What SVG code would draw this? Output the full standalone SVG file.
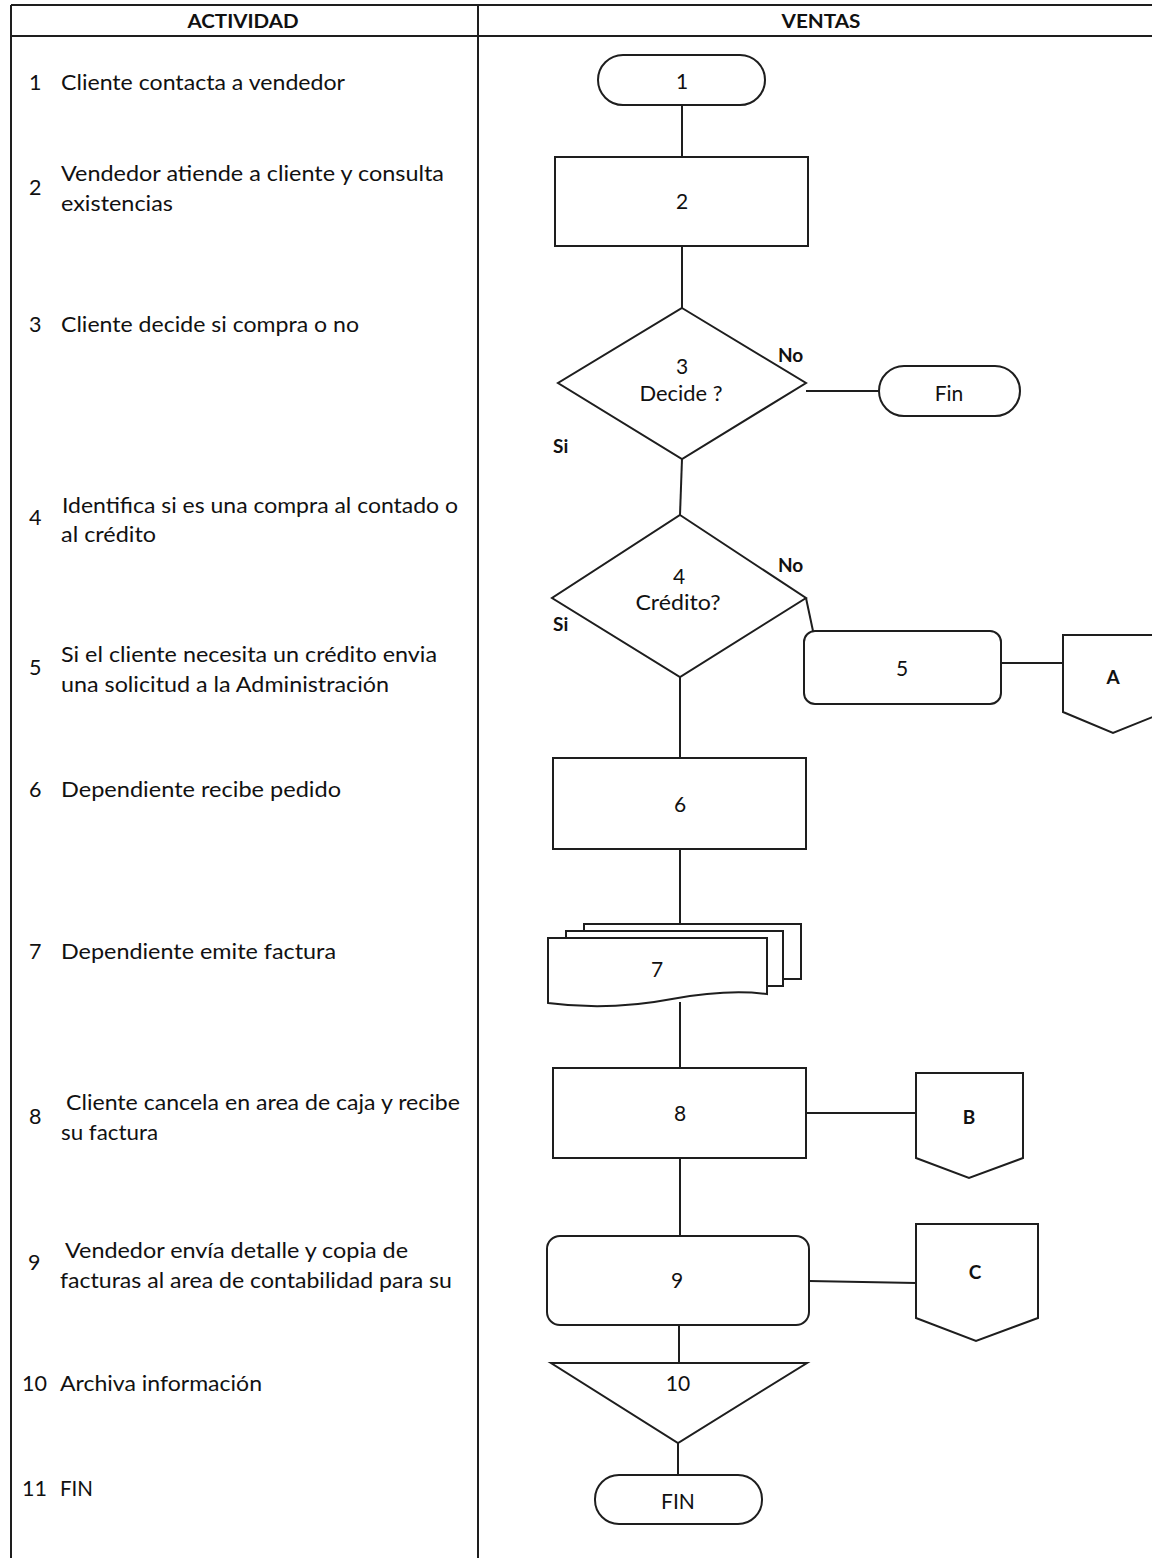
<svg xmlns="http://www.w3.org/2000/svg" width="1152" height="1558" viewBox="0 0 1152 1558">
<style>
.s{fill:#fff;stroke:#1e1e1e;stroke-width:2}
.c{fill:none;stroke:#1e1e1e;stroke-width:2}
.t{font-family:Lato,"Open Sans","Liberation Sans",sans-serif;font-size:21.5px;fill:#111}
.m{font-family:Lato,"Open Sans","Liberation Sans",sans-serif;font-size:21px;fill:#111;text-anchor:middle}
.b{font-family:Lato,"Open Sans","Liberation Sans",sans-serif;font-size:19px;font-weight:bold;fill:#111}
.h{font-family:Lato,"Open Sans","Liberation Sans",sans-serif;font-size:19px;font-weight:bold;fill:#111;text-anchor:middle}
</style>
<rect width="1152" height="1558" fill="#fff"/>
<g id="table">
<line class="c" x1="11" y1="5" x2="1152" y2="5"/>
<line class="c" x1="11" y1="36" x2="1152" y2="36"/>
<line class="c" x1="11" y1="5" x2="11" y2="1558"/>
<line class="c" x1="478" y1="5" x2="478" y2="1558"/>
<text class="h" x="243" y="28" textLength="111" lengthAdjust="spacingAndGlyphs">ACTIVIDAD</text>
<text class="h" x="821" y="28" textLength="79" lengthAdjust="spacingAndGlyphs">VENTAS</text>
</g>
<g id="activities">
<text class="t" x="29" y="90">1</text>
<text class="t" x="61" y="90" textLength="284" lengthAdjust="spacingAndGlyphs">Cliente contacta a vendedor</text>
<text class="t" x="29" y="195">2</text>
<text class="t" x="61" y="181" textLength="383" lengthAdjust="spacingAndGlyphs">Vendedor atiende a cliente y consulta</text>
<text class="t" x="61" y="211" textLength="112" lengthAdjust="spacingAndGlyphs">existencias</text>
<text class="t" x="29" y="332">3</text>
<text class="t" x="61" y="332" textLength="298" lengthAdjust="spacingAndGlyphs">Cliente decide si compra o no</text>
<text class="t" x="29" y="525">4</text>
<text class="t" x="62" y="513" textLength="396" lengthAdjust="spacingAndGlyphs">Identifica si es una compra al contado o</text>
<text class="t" x="61" y="542" textLength="95" lengthAdjust="spacingAndGlyphs">al crédito</text>
<text class="t" x="29" y="675">5</text>
<text class="t" x="61" y="662" textLength="376" lengthAdjust="spacingAndGlyphs">Si el cliente necesita un crédito envia</text>
<text class="t" x="61" y="692" textLength="328" lengthAdjust="spacingAndGlyphs">una solicitud a la Administración</text>
<text class="t" x="29" y="797">6</text>
<text class="t" x="61" y="797" textLength="280" lengthAdjust="spacingAndGlyphs">Dependiente recibe pedido</text>
<text class="t" x="29" y="959">7</text>
<text class="t" x="61" y="959" textLength="275" lengthAdjust="spacingAndGlyphs">Dependiente emite factura</text>
<text class="t" x="29" y="1124">8</text>
<text class="t" x="66" y="1110" textLength="394" lengthAdjust="spacingAndGlyphs">Cliente cancela en area de caja y recibe</text>
<text class="t" x="61" y="1140" textLength="97" lengthAdjust="spacingAndGlyphs">su factura</text>
<text class="t" x="28" y="1270">9</text>
<text class="t" x="65" y="1258" textLength="343" lengthAdjust="spacingAndGlyphs">Vendedor envía detalle y copia de</text>
<text class="t" x="60" y="1288" textLength="392" lengthAdjust="spacingAndGlyphs">facturas al area de contabilidad para su</text>
<text class="t" x="22" y="1391">10</text>
<text class="t" x="60" y="1391" textLength="202" lengthAdjust="spacingAndGlyphs">Archiva información</text>
<text class="t" x="22" y="1496">11</text>
<text class="t" x="60" y="1496" textLength="33" lengthAdjust="spacingAndGlyphs">FIN</text>
</g>
<g id="connectors">
<line class="c" x1="682" y1="105" x2="682" y2="157"/>
<line class="c" x1="682" y1="246" x2="682" y2="308"/>
<line class="c" x1="806" y1="391" x2="879" y2="391"/>
<line class="c" x1="682" y1="459" x2="680" y2="515"/>
<line class="c" x1="806" y1="598" x2="813" y2="631"/>
<line class="c" x1="1001" y1="663" x2="1063" y2="663"/>
<line class="c" x1="680" y1="677" x2="680" y2="758"/>
<line class="c" x1="680" y1="849" x2="680" y2="924"/>
<line class="c" x1="680" y1="1002" x2="680" y2="1068"/>
<line class="c" x1="806" y1="1113" x2="916" y2="1113"/>
<line class="c" x1="680" y1="1158" x2="680" y2="1236"/>
<line class="c" x1="809" y1="1281" x2="916" y2="1283"/>
<line class="c" x1="679" y1="1325" x2="679" y2="1363"/>
<line class="c" x1="678" y1="1443" x2="678" y2="1475"/>
<text class="b" x="778" y="362">No</text>
<text class="b" x="553" y="453">Si</text>
<text class="b" x="778" y="572">No</text>
<text class="b" x="553" y="631">Si</text>
</g>
<g id="n1"><rect class="s" x="598" y="55" width="167" height="50" rx="25"/><text class="m" x="682" y="89">1</text></g>
<g id="n2"><rect class="s" x="555" y="157" width="253" height="89"/><text class="m" x="682" y="209">2</text></g>
<g id="n3"><polygon class="s" points="682,308 806,383 682,459 558,383"/><text class="m" x="682" y="374">3</text><text class="m" x="681" y="401" textLength="83" lengthAdjust="spacingAndGlyphs">Decide ?</text></g>
<g id="fin1"><rect class="s" x="879" y="366" width="141" height="50" rx="25"/><text class="m" x="949" y="401">Fin</text></g>
<g id="n4"><polygon class="s" points="680,515 806,598 680,677 552,598"/><text class="m" x="679" y="584">4</text><text class="m" x="678" y="610" textLength="85" lengthAdjust="spacingAndGlyphs">Crédito?</text></g>
<g id="n5"><rect class="s" x="804" y="631" width="197" height="73" rx="11"/><text class="m" x="902" y="676">5</text></g>
<g id="A"><polygon class="s" points="1063,635 1165,635 1165,712 1113,733 1063,712"/><text class="h" x="1113" y="684">A</text></g>
<g id="n6"><rect class="s" x="553" y="758" width="253" height="91"/><text class="m" x="680" y="812">6</text></g>
<g id="n7">
<path class="s" d="M584,924 H801 V979 H584 Z"/>
<path class="s" d="M566,931 H783 V986 H566 Z"/>
<path class="s" d="M548,938 H767 V994 C735,990 705,993 672,999 C625,1008 585,1008 548,1003 Z"/>
<text class="m" x="657" y="977">7</text>
</g>
<g id="n8"><rect class="s" x="553" y="1068" width="253" height="90"/><text class="m" x="680" y="1121">8</text></g>
<g id="B"><polygon class="s" points="916,1073 1023,1073 1023,1158 969,1178 916,1158"/><text class="h" x="969" y="1124">B</text></g>
<g id="n9"><rect class="s" x="547" y="1236" width="262" height="89" rx="13"/><text class="m" x="677" y="1288">9</text></g>
<g id="C"><polygon class="s" points="916,1224 1038,1224 1038,1318 976,1341 916,1318"/><text class="h" x="975" y="1279">C</text></g>
<g id="n10"><polygon class="s" points="551,1363 807,1363 678,1443"/><text class="m" x="678" y="1391">10</text></g>
<g id="fin2"><rect class="s" x="595" y="1475" width="167" height="49" rx="24"/><text class="m" x="678" y="1509">FIN</text></g>
</svg>
